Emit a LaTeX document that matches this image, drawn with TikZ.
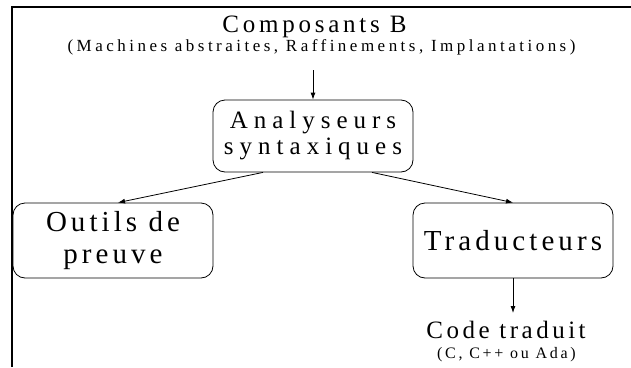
\documentclass[tikz,border=0pt]{standalone}
\usepackage{fontspec}
\setmainfont{Liberation Serif}[Ligatures={TeX,CommonOff}]
\usepackage{tikz}
\usetikzlibrary{positioning, arrows.meta}

\begin{document}
\begin{tikzpicture}[
  x=1pt, y=-1pt,
  box/.style={draw, rounded corners=12pt, minimum width=200pt,
              minimum height=75pt, align=center, inner sep=0pt, line width=0.8pt},
  bigtxt/.style={font=\fontsize{29}{31.5}\selectfont\addfontfeature{LetterSpace=14}},
  arr/.style={-{Latex[length=7pt, width=5pt]}, line width=0.8pt},
  frame/.style={line width=1.7pt},
  lbl/.style={anchor=base, inner sep=0pt}
]
\useasboundingbox (0,0) rectangle (631,367);

%% ——— Cadre ———
\draw[frame] (11.7,367) -- (11.7,6.7) -- (631,6.7);

%% ——— Composants B ———
\node[lbl, font=\fontsize{25}{28}\selectfont\addfontfeature{LetterSpace=15}]
  (comp) at (314.5,32) {Composants B};
\node[lbl, font=\fontsize{17}{19}\selectfont\addfontfeature{LetterSpace=20.5}]
  (compsub) at (321.5,51) {(Machines abstraites, Raffinements, Implantations)};
\coordinate (compout) at (313,70);

%% ——— Analyseurs ———
\node[box, minimum height=72pt,
      font=\fontsize{25}{26}\selectfont\addfontfeature{LetterSpace=24}]
  (ana) at (313,136) {Analyseurs\\syntaxiques};

%% ——— Outils et traducteurs ———
\node[box, bigtxt] (outils) at (113,240.5) {Outils de\\preuve};
\node[box, bigtxt] (trad)   at (513,240.5) {Traducteurs};

%% ——— Code traduit ———
\coordinate (codein) at (513,313);
\node[lbl, font=\fontsize{25}{28}\selectfont\addfontfeature{LetterSpace=14}]
  (code) at (506,338.3) {Code traduit};
\node[lbl, font=\fontsize{16}{18}\selectfont\addfontfeature{LetterSpace=17}]
  (codesub) at (506.5,358) {(C, C++ ou Ada)};

%% ——— Flèches ———
\draw[arr] (compout) -- (ana.north);
\draw[arr] ([xshift=-50pt]ana.south) -- ([xshift=5pt]outils.north);
\draw[arr] ([xshift=59pt]ana.south) -- (trad.north);
\draw[arr] (trad.south) -- (codein);

\end{tikzpicture}
\end{document}
